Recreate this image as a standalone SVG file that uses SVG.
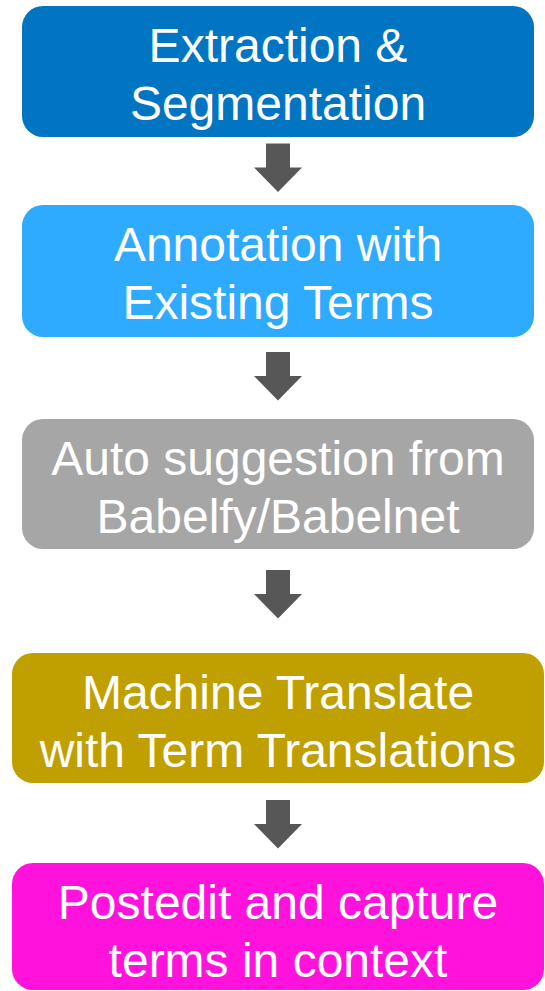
<svg xmlns="http://www.w3.org/2000/svg" width="545" height="991" viewBox="0 0 545 991">
<style>
.box{stroke:none}
.t{font-family:"Liberation Sans",Arial,sans-serif;font-size:48px;fill:#ffffff;text-anchor:middle}
.arrow{fill:#575757}
</style>
<defs>
<path id="arr" d="M-12,0 H12 V24 H24 L0,48.5 L-24,24 H-12 Z"/>
</defs>
<rect width="545" height="991" fill="#ffffff"/>
<g id="n1">
<rect class="box" x="22" y="6" width="512" height="131" rx="21" fill="#0174C2"/>
<text class="t" x="278" y="62">Extraction &amp;</text>
<text class="t" x="278" y="120">Segmentation</text>
</g>
<g id="n2">
<rect class="box" x="22" y="205" width="512" height="132" rx="21" fill="#2EAAFF"/>
<text class="t" x="278" y="261">Annotation with</text>
<text class="t" x="278" y="319">Existing Terms</text>
</g>
<g id="n3">
<rect class="box" x="22" y="419" width="512" height="130" rx="21" fill="#A6A6A6"/>
<text class="t" x="278" y="475">Auto suggestion from</text>
<text class="t" x="278" y="533">Babelfy/Babelnet</text>
</g>
<g id="n4">
<rect class="box" x="12" y="653" width="532" height="130" rx="21" fill="#C0A000"/>
<text class="t" x="278" y="709">Machine Translate</text>
<text class="t" x="278" y="767">with Term Translations</text>
</g>
<g id="n5">
<rect class="box" x="12" y="863" width="532" height="127" rx="21" fill="#FF12DC"/>
<text class="t" x="278" y="919">Postedit and capture</text>
<text class="t" x="278" y="977">terms in context</text>
</g>
<g id="connectors" class="arrow">
<use href="#arr" x="278" y="143.5"/>
<use href="#arr" x="278" y="352"/>
<use href="#arr" x="278" y="570"/>
<use href="#arr" x="278" y="800"/>
</g>
</svg>
